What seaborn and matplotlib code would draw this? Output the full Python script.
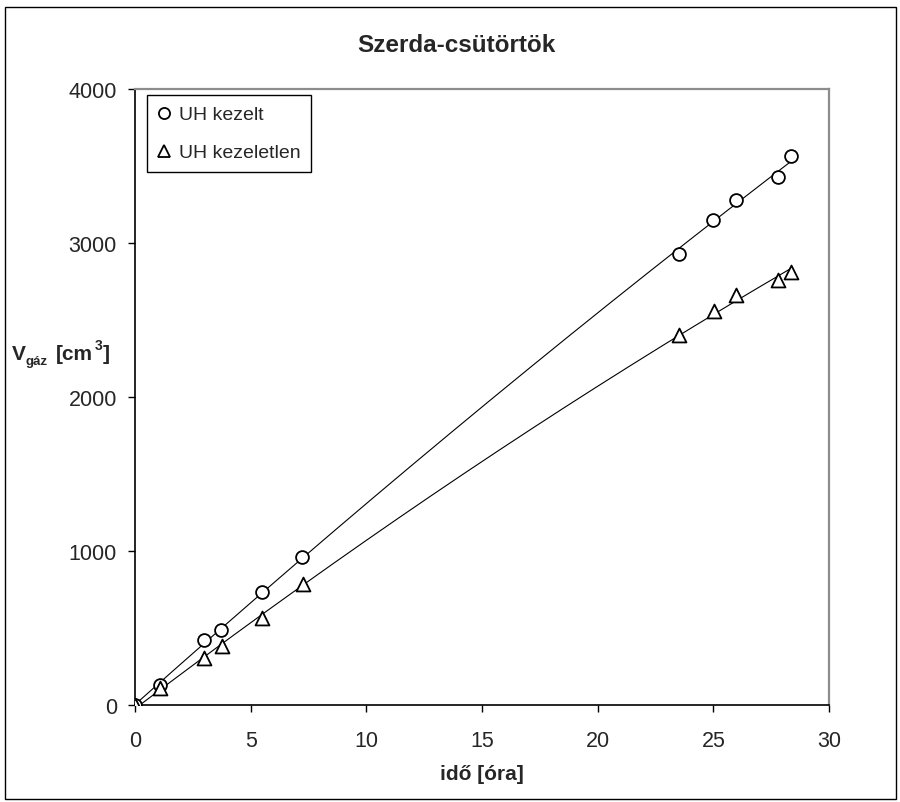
import numpy as np
import pandas as pd
import matplotlib
matplotlib.use("Agg")
import matplotlib.pyplot as plt
from matplotlib.lines import Line2D
from matplotlib.patches import Rectangle
import seaborn as sns

# Measured gas volume over time
ido_kezelt = [0, 1.1, 3.0, 3.7, 5.5, 7.2, 23.5, 25.0, 26.0, 27.8, 28.35]
v_kezelt = [0, 132, 420, 487, 732, 963, 2927, 3147, 3279, 3431, 3563]

ido_kezeletlen = [0, 1.1, 3.0, 3.75, 5.5, 7.25, 23.5, 25.05, 26.0, 27.8, 28.35]
v_kezeletlen = [0, 108, 305, 381, 563, 786, 2400, 2560, 2665, 2760, 2810]

series_names = ["UH kezelt", "UH kezeletlen"]
series_markers = ["o", "^"]
x_ticks = [0, 5, 10, 15, 20, 25, 30]
y_ticks = [0, 1000, 2000, 3000, 4000]

sns.set_theme(style="white")
plt.rcParams["font.family"] = ["Liberation Sans", "DejaVu Sans"]

W, H = 900, 803
fig = plt.figure(figsize=(W / 100, H / 100), dpi=100)
ax = fig.add_axes([135 / W, 1 - 706 / H, (829 - 135) / W, (706 - 90) / H])

data = [(ido_kezelt, v_kezelt), (ido_kezeletlen, v_kezeletlen)]

for (x, y), name, mk in zip(data, series_names, series_markers):
    df = pd.DataFrame({"ido": x, "V": y})
    # quadratic trend line fitted to the measurements
    coef = np.polyfit(df["ido"], df["V"], 2)
    xs = np.linspace(0, max(x), 200)
    trend = pd.DataFrame({"ido": xs, "V": np.polyval(coef, xs)})
    sns.lineplot(data=trend, x="ido", y="V", ax=ax, color="black",
                 linewidth=0.8, zorder=2, legend=False)
    sns.scatterplot(data=df, x="ido", y="V", ax=ax, marker=mk,
                    s=85 if mk == "o" else 100,
                    facecolor="white", edgecolor="black", linewidth=1.3,
                    zorder=3, legend=False)

ax.set_xlim(0, 30)
ax.set_ylim(0, 4000)
ax.set_xticks(x_ticks)
ax.set_yticks(y_ticks)
ax.set_xlabel("")
ax.set_ylabel("")
ax.tick_params(axis="both", which="major", direction="out", length=5,
               width=1, color="black", labelsize=15.5,
               bottom=True, left=True)
ax.tick_params(axis="x", pad=13)
ax.tick_params(axis="y", pad=8)

for side in ["left", "bottom"]:
    ax.spines[side].set_color("black")
    ax.spines[side].set_linewidth(1.2)
for side in ["top", "right"]:
    ax.spines[side].set_color("#8c8c8c")
    ax.spines[side].set_linewidth(1.6)

handles = [Line2D([], [], linestyle="none", marker=mk, markersize=8,
                  markerfacecolor="white", markeredgecolor="black",
                  markeredgewidth=1.3)
           for mk in series_markers]
leg = ax.legend(handles, series_names, loc="upper left",
                bbox_to_anchor=(12 / 694, 1 - 6 / 616), fontsize=14,
                frameon=True, fancybox=False, framealpha=1,
                edgecolor="black", handlelength=0.6, handletextpad=0.5,
                borderpad=0.55, labelspacing=1.05, borderaxespad=0)
leg.get_frame().set_linewidth(1.0)

fig.text(456 / W, 1 - 45 / H, "Szerda-csütörtök", ha="center",
         va="center", fontsize=17.5, fontweight="bold")
fig.text(482 / W, 1 - 775 / H, "idő [óra]", ha="center", va="center",
         fontsize=15, fontweight="bold")

# y axis label built from pieces: V, subscript gáz, [cm, superscript 3, ]
fig.text(12 / W, 1 - 360 / H, "V", ha="left", va="baseline",
         fontsize=15, fontweight="bold")
fig.text(26 / W, 1 - 365 / H, "gáz", ha="left", va="baseline",
         fontsize=9.5, fontweight="bold")
fig.text(56 / W, 1 - 360 / H, "[cm", ha="left", va="baseline",
         fontsize=15, fontweight="bold")
fig.text(95 / W, 1 - 350 / H, "3", ha="left", va="baseline",
         fontsize=10, fontweight="bold")
fig.text(103 / W, 1 - 360 / H, "]", ha="left", va="baseline",
         fontsize=15, fontweight="bold")

fig.patches.append(Rectangle((5 / W, 1 - 800 / H), 891 / W, 792 / H,
                             transform=fig.transFigure, fill=False,
                             edgecolor="black", linewidth=1.0))

fig.savefig("out.png", dpi=100)
